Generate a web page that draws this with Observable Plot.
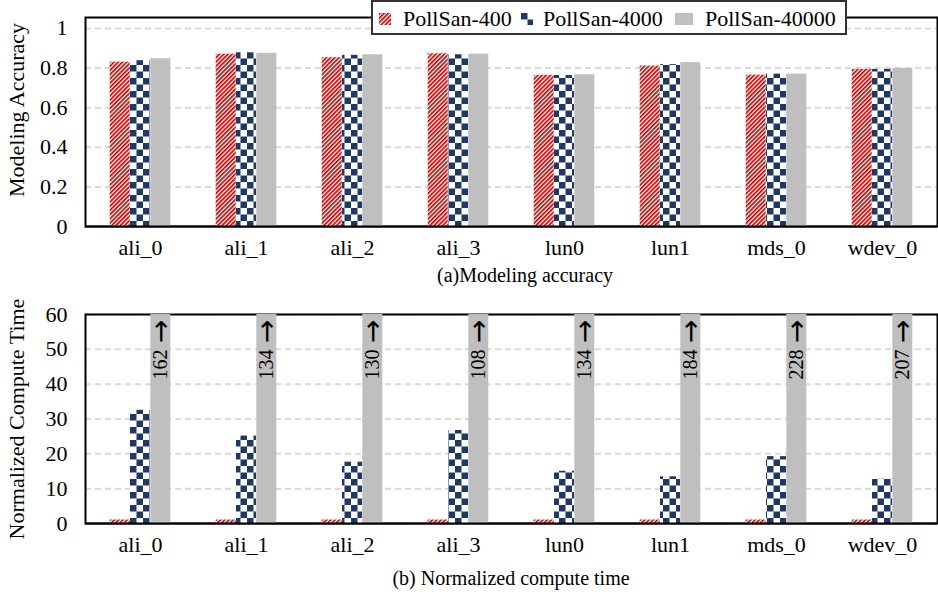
<!DOCTYPE html>
<html><head><meta charset="utf-8">
<script src="https://cdn.jsdelivr.net/npm/d3@7"></script>
<script src="https://cdn.jsdelivr.net/npm/@observablehq/plot@0.6"></script>
<style>
body{margin:0;background:#fff;font-family:"Liberation Serif","Times New Roman",serif;}
#wrap{position:relative;width:938px;height:598px;overflow:hidden;}
.abs{position:absolute;white-space:nowrap;line-height:1;color:#000;}
.chart{position:absolute;left:0;}
</style></head><body>
<svg width="0" height="0" style="position:absolute">
<defs>
<pattern id="stripe" patternUnits="userSpaceOnUse" width="3" height="3" patternTransform="rotate(45)">
 <rect width="3" height="3" fill="#fff"/>
 <rect width="1.7" height="3" fill="#c00000"/>
</pattern>
<pattern id="check" patternUnits="userSpaceOnUse" width="13" height="13">
 <rect width="13" height="13" fill="#fff"/>
 <rect width="6.5" height="6.5" fill="#1f3864"/>
 <rect x="6.5" y="6.5" width="6.5" height="6.5" fill="#1f3864"/>
</pattern>
</defs></svg>
<div id="wrap"></div>
<script>
// ---- data ----
const categories = ["ali_0","ali_1","ali_2","ali_3","lun0","lun1","mds_0","wdev_0"];
const seriesNames = ["PollSan-400","PollSan-4000","PollSan-40000"];
const acc400   = [0.830, 0.870, 0.852, 0.872, 0.763, 0.810, 0.764, 0.793];
const acc4000  = [0.837, 0.877, 0.864, 0.867, 0.762, 0.817, 0.769, 0.793];
const acc40000 = [0.847, 0.874, 0.867, 0.870, 0.766, 0.827, 0.769, 0.798];
const time400   = [1, 1, 1, 1, 1, 1, 1, 1];
const time4000  = [32.5, 25.1, 17.6, 26.7, 15.0, 13.4, 19.2, 12.7];
const time40000 = [162, 134, 130, 108, 134, 184, 228, 207];
const accTicks  = [0, 0.2, 0.4, 0.6, 0.8, 1];
const timeTicks = [0, 10, 20, 30, 40, 50, 60];
const captionA = "(a)Modeling accuracy";
const captionB = "(b) Normalized compute time";
const yTitleA = "Modeling Accuracy";
const yTitleB = "Normalized Compute Time";

const rowsA = categories.map((c, i) => ({cat: c, a: acc400[i], b: acc4000[i], c: acc40000[i]}));
const rowsB = categories.map((c, i) => ({cat: c, a: time400[i], b: time4000[i], c: time40000[i]}));

const FONT = '"Liberation Serif","Times New Roman",serif';
const fills = ["url(#stripe)", "url(#check)", "#bfbfbf"];
const offs = [-20.3, 0, 20.3];
const W = 938;

function makeChart(rows, yDomain, ticks, top, labels) {
  const H = 265;
  const marks = [
    Plot.ruleY(ticks.filter(t => t > 0 && t <= yDomain[1]), {stroke: "#d9d9d9", strokeWidth: 2, strokeDasharray: "6,4"}),
    Plot.frame({stroke: "#000", strokeWidth: 2}),
    Plot.barY(rows, {x: "cat", y: "a", fill: fills[0], dx: offs[0]}),
    Plot.barY(rows, {x: "cat", y: "b", fill: fills[1], dx: offs[1]}),
    Plot.barY(rows, {x: "cat", y: "c", fill: fills[2], dx: offs[2]}),
    Plot.ruleY([0], {stroke: "#000", strokeWidth: 2})
  ];
  if (labels) {
    marks.push(Plot.text(rows, {x: "cat", y: "c", text: () => "\u2192", rotate: -90, textAnchor: "end",
      dx: offs[2], dy: 5, fontSize: 28, fontFamily: "DejaVu Sans", fill: "#000"}));
    marks.push(Plot.text(rows, {x: "cat", y: "c", text: d => String(d.c), rotate: -90, textAnchor: "end",
      dx: offs[2], dy: 35, fontSize: 20, fill: "#000"}));
  }
  const svg = Plot.plot({
    width: W, height: H,
    marginLeft: 85, marginRight: 1, marginTop: 17, marginBottom: H - 209 - 17,
    style: {fontFamily: FONT, fontSize: "22px", color: "#000", background: "transparent"},
    x: {domain: categories, paddingInner: 0.8122, paddingOuter: 0.4061, tickSize: 0, tickPadding: 12.5, label: null},
    y: {domain: yDomain, ticks: ticks, tickFormat: d => String(d), tickSize: 0, tickPadding: 18, label: null, clamp: true},
    marks
  });
  svg.classList.add("chart");
  svg.style.top = top + "px";
  return svg;
}

const wrap = document.getElementById("wrap");
wrap.appendChild(makeChart(rowsA, [0, 1.055], accTicks, 0, false));
wrap.appendChild(makeChart(rowsB, [0, 60], timeTicks, 297, true));

function addText(txt, left, top, size, extra) {
  const d = document.createElement("div");
  d.className = "abs";
  d.textContent = txt;
  d.style.left = left + "px"; d.style.top = top + "px"; d.style.fontSize = size + "px";
  if (extra) Object.assign(d.style, extra);
  wrap.appendChild(d);
  return d;
}
addText(captionA, 525, 264.5, 20, {transform: "translateX(-50%)"});
addText(captionB, 511, 568, 20, {transform: "translateX(-50%)"});
addText(yTitleA, 17, 110, 22, {transform: "translate(-50%,-50%) rotate(-90deg)"});
addText(yTitleB, 17, 419, 22, {transform: "translate(-50%,-50%) rotate(-90deg)"});

// legend
const leg = document.createElement("div");
Object.assign(leg.style, {position: "absolute", left: "371px", top: "0px", width: "476px", height: "35px",
  boxSizing: "border-box", border: "2px solid #333", background: "#fff"});
wrap.appendChild(leg);
const swX = [379, 521, 675], swW = [12, 12, 18], txX = [403, 543, 705];
seriesNames.forEach((n, i) => {
  const s = document.createElementNS("http://www.w3.org/2000/svg", "svg");
  s.setAttribute("width", swW[i]); s.setAttribute("height", 12);
  Object.assign(s.style, {position: "absolute", left: (swX[i] - 373) + "px", top: "11px"});
  const r = document.createElementNS("http://www.w3.org/2000/svg", "rect");
  r.setAttribute("width", swW[i]); r.setAttribute("height", 12); r.setAttribute("fill", fills[i]);
  s.appendChild(r); leg.appendChild(s);
  const t = document.createElement("div");
  t.className = "abs"; t.textContent = n;
  Object.assign(t.style, {left: (txX[i] - 373) + "px", top: "5.6px", fontSize: "22px"});
  leg.appendChild(t);
});
</script>
</body></html>
